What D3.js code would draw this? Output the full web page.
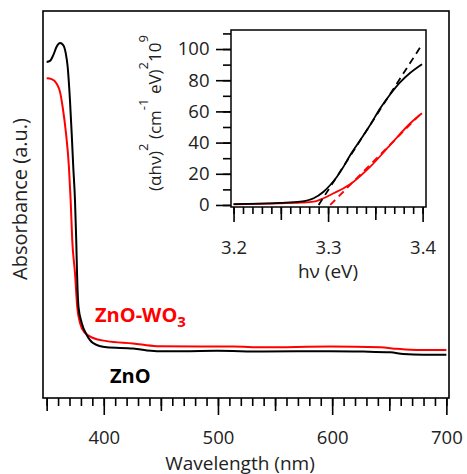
<!DOCTYPE html>
<html>
<head>
<meta charset="utf-8">
<script src="https://cdn.jsdelivr.net/npm/d3@7"></script>
<style>
  body { margin: 0; background: #fff; }
  svg { display: block; font-family: "Open Sans", Lato, sans-serif; }
</style>
</head>
<body>
<svg id="chart" width="467" height="474"></svg>
<script>
// UV-vis absorbance (wavelength in nm, absorbance in a.u.)
const znoWavelength = [350, 352.9, 355.8, 358.8, 361.7, 364.5, 366.7, 368.4, 370.4, 371.9, 373.3, 374.8, 375.9, 376.6, 377.9, 380.7, 385.1, 390.8, 402.6, 425.6, 446.4, 469.5, 499, 539.6, 598.3, 627.2, 650.9, 662.3, 679.8, 700];
const znoAbs = [0.868, 0.871, 0.886, 0.908, 0.917, 0.912, 0.891, 0.856, 0.770, 0.685, 0.597, 0.512, 0.408, 0.323, 0.235, 0.194, 0.163, 0.142, 0.131, 0.128, 0.121, 0.121, 0.122, 0.120, 0.121, 0.120, 0.118, 0.114, 0.112, 0.112];

const znoWo3Wavelength = [350, 354.4, 358.8, 361.7, 364.1, 366.9, 369.5, 371, 372.4, 374.8, 376.8, 379.2, 383.6, 390.8, 402.6, 425.6, 446.4, 484.4, 513.3, 539.6, 598.3, 642.1, 656.7, 674.3, 700];
const znoWo3Abs = [0.826, 0.824, 0.812, 0.791, 0.750, 0.685, 0.597, 0.512, 0.408, 0.323, 0.235, 0.194, 0.168, 0.155, 0.147, 0.141, 0.134, 0.133, 0.133, 0.131, 0.133, 0.131, 0.127, 0.124, 0.124];

// Tauc plot, (alpha h nu)^2 in 10^9 (cm^-1 eV)^2
const znoEnergy = [3.2, 3.2494, 3.2706, 3.2847, 3.2952, 3.3023, 3.3094, 3.3164, 3.3235, 3.335, 3.345, 3.3552, 3.3658, 3.3764, 3.387, 3.3994];
const znoTauc = [0.5, 1.3, 2.1, 4.3, 8.5, 12.8, 18.1, 24.6, 32.1, 42.5, 51.8, 62.0, 71.0, 78.8, 84.8, 90.3];
const znoWo3Energy = [3.2, 3.2494, 3.2706, 3.2847, 3.2952, 3.3058, 3.3164, 3.327, 3.3341, 3.3447, 3.3658, 3.387, 3.3993];
const znoWo3Tauc = [0.4, 1.1, 1.5, 2.1, 4.3, 7.5, 10.7, 14.9, 18.6, 24.6, 38.5, 52.4, 58.8];

// linear fits (band gap extrapolation)
const znoFitEnergy = [3.29, 3.3995];
const znoFitTauc = [0, 103];
const znoWo3FitEnergy = [3.3023, 3.3993];
const znoWo3FitTauc = [0, 59.2];

const mainTickLabels = [400, 500, 600, 700];
const insetXTickLabels = [3.2, 3.3, 3.4];
const insetYTickLabels = [0, 20, 40, 60, 80, 100];

const svg = d3.select('#chart');

// ---- main plot ----
const x = d3.scaleLinear().domain([346.8, 702.3]).range([43, 449]);
const y = d3.scaleLinear().domain([0, 1]).range([398, 11]);

const toPoints = (xs, ys) => xs.map((v, i) => [v, ys[i]]);

const mainLine = d3.line()
  .x(d => x(d[0]))
  .y(d => y(d[1]))
  .curve(d3.curveMonotoneX);

svg.append('rect')
  .attr('x', 43).attr('y', 11)
  .attr('width', 406).attr('height', 387)
  .attr('fill', 'none')
  .attr('stroke', '#000')
  .attr('stroke-width', 1.6);

svg.append('path')
  .datum(toPoints(znoWo3Wavelength, znoWo3Abs))
  .attr('d', mainLine)
  .attr('fill', 'none')
  .attr('stroke', '#ff0000')
  .attr('stroke-width', 2);

svg.append('path')
  .datum(toPoints(znoWavelength, znoAbs))
  .attr('d', mainLine)
  .attr('fill', 'none')
  .attr('stroke', '#000')
  .attr('stroke-width', 2);

// x ticks: minor every 10, medium every 50, major every 100
function tickAxis(g, axis) {
  g.call(axis);
  g.select('.domain').remove();
  g.selectAll('line').attr('stroke-width', 1.6);
}

const xAxisG = svg.append('g').attr('transform', 'translate(0,398)');
tickAxis(xAxisG.append('g'), d3.axisBottom(x).tickValues(d3.range(350, 701, 10)).tickSize(8).tickFormat(''));
tickAxis(xAxisG.append('g'), d3.axisBottom(x).tickValues([350, 450, 550, 650]).tickSize(13).tickFormat(''));
const xMajor = xAxisG.append('g');
tickAxis(xMajor, d3.axisBottom(x).tickValues(mainTickLabels).tickSize(17).tickPadding(16).tickFormat(d3.format('d')));
xMajor.selectAll('text')
  .attr('font-size', 18.5)
  .attr('font-family', '"Open Sans", sans-serif')
  .attr('fill', '#222');

svg.append('text')
  .attr('x', 240).attr('y', 469.5)
  .attr('text-anchor', 'middle')
  .attr('font-size', 19)
  .attr('fill', '#222')
  .text('Wavelength (nm)');

svg.append('text')
  .attr('transform', 'translate(27,199) rotate(-90)')
  .attr('text-anchor', 'middle')
  .attr('font-size', 20)
  .attr('fill', '#222')
  .text('Absorbance (a.u.)');

// series labels
const redLabel = svg.append('text')
  .attr('x', 95).attr('y', 322)
  .attr('font-size', 20)
  .attr('font-weight', 'bold')
  .attr('fill', '#ff0000');
redLabel.append('tspan').text('ZnO-WO');
redLabel.append('tspan').attr('dy', 5).attr('font-size', 15).text('3');

svg.append('text')
  .attr('x', 110).attr('y', 383)
  .attr('font-size', 20)
  .attr('font-weight', 'bold')
  .attr('fill', '#000')
  .text('ZnO');

// ---- inset (Tauc plot) ----
const ix = d3.scaleLinear().domain([3.1973, 3.4036]).range([231, 426]);
const iy = d3.scaleLinear().domain([-1.3, 112.2]).range([207, 30]);

const insetLine = d3.line()
  .x(d => ix(d[0]))
  .y(d => iy(d[1]))
  .curve(d3.curveMonotoneX);
const fitLine = d3.line()
  .x(d => ix(d[0]))
  .y(d => iy(d[1]));

svg.append('rect')
  .attr('x', 231).attr('y', 30)
  .attr('width', 195).attr('height', 177)
  .attr('fill', '#fff')
  .attr('stroke', '#000')
  .attr('stroke-width', 1.5);

svg.append('path')
  .datum(toPoints(znoWo3Energy, znoWo3Tauc))
  .attr('d', insetLine)
  .attr('fill', 'none')
  .attr('stroke', '#ff0000')
  .attr('stroke-width', 1.8);

svg.append('path')
  .datum(toPoints(znoWo3FitEnergy, znoWo3FitTauc))
  .attr('d', fitLine)
  .attr('fill', 'none')
  .attr('stroke', '#ff0000')
  .attr('stroke-width', 1.8)
  .attr('stroke-dasharray', '7,5');

svg.append('path')
  .datum(toPoints(znoEnergy, znoTauc))
  .attr('d', insetLine)
  .attr('fill', 'none')
  .attr('stroke', '#000')
  .attr('stroke-width', 1.8);

svg.append('path')
  .datum(toPoints(znoFitEnergy, znoFitTauc))
  .attr('d', fitLine)
  .attr('fill', 'none')
  .attr('stroke', '#000')
  .attr('stroke-width', 1.8)
  .attr('stroke-dasharray', '7,5');

// inset x ticks
const ixAxisG = svg.append('g').attr('transform', 'translate(0,207)');
tickAxis(ixAxisG.append('g'), d3.axisBottom(ix).tickValues(d3.range(3.2, 3.4001, 0.01)).tickSize(7).tickFormat(''));
tickAxis(ixAxisG.append('g'), d3.axisBottom(ix).tickValues([3.25, 3.35]).tickSize(13).tickFormat(''));
const ixMajor = ixAxisG.append('g');
tickAxis(ixMajor, d3.axisBottom(ix).tickValues(insetXTickLabels).tickSize(15).tickPadding(19).tickFormat(d3.format('.1f')));
ixMajor.selectAll('text')
  .attr('font-size', 18.5)
  .attr('font-family', '"Open Sans", sans-serif')
  .attr('fill', '#222');

// inset y ticks
const iyAxisG = svg.append('g').attr('transform', 'translate(231,0)');
tickAxis(iyAxisG.append('g'), d3.axisLeft(iy).tickValues(d3.range(0, 111, 10)).tickSize(8).tickFormat(''));
const iyMajor = iyAxisG.append('g');
tickAxis(iyMajor, d3.axisLeft(iy).tickValues(insetYTickLabels).tickSize(15).tickPadding(6.5).tickFormat(d3.format('d')));
iyMajor.selectAll('text')
  .attr('font-size', 18.5)
  .attr('font-family', '"Open Sans", sans-serif')
  .attr('fill', '#222');

svg.append('text')
  .attr('x', 328).attr('y', 278)
  .attr('text-anchor', 'middle')
  .attr('font-size', 19)
  .attr('fill', '#222')
  .text('h\u03bd (eV)');

const yInsetLabel = svg.append('text')
  .attr('transform', 'translate(161,113) rotate(-90)')
  .attr('text-anchor', 'middle')
  .attr('font-size', 17)
  .attr('fill', '#222');
yInsetLabel.append('tspan').text('(\u03b1h\u03bd)');
yInsetLabel.append('tspan').attr('dy', -13).attr('font-size', 13).text('2');
yInsetLabel.append('tspan').attr('dy', 13).text(' (cm');
yInsetLabel.append('tspan').attr('dy', -13).attr('font-size', 13).text('-1');
yInsetLabel.append('tspan').attr('dy', 13).text(' eV)');
yInsetLabel.append('tspan').attr('dy', -13).attr('font-size', 13).text('2');
yInsetLabel.append('tspan').attr('dy', 13).text('10');
yInsetLabel.append('tspan').attr('dy', -13).attr('font-size', 13).text('9');
</script>
</body>
</html>
